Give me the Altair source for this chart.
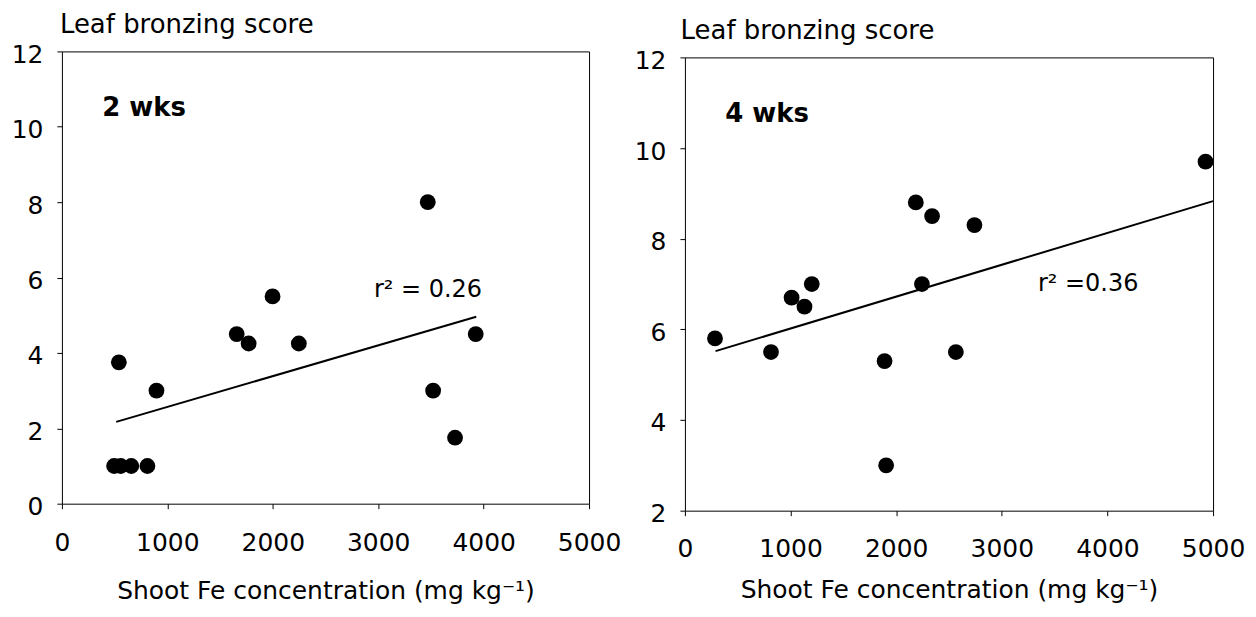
import altair as alt
import pandas as pd

FONT = "DejaVu Sans"

# ---- 2 weeks panel data ----
fe_2wk = [495, 558, 658, 811, 540, 897, 1658, 1771, 1998, 2247, 3470, 3521, 3729, 3925]
score_2wk = [1, 1, 1, 1, 3.75, 3, 4.5, 4.25, 5.5, 4.25, 8, 3, 1.75, 4.5]
fit_fe_2wk = [515, 3930]
fit_score_2wk = [2.17, 4.96]

# ---- 4 weeks panel data ----
fe_4wk = [285, 815, 1010, 1132, 1201, 1890, 1905, 2186, 2340, 2244, 2565, 2741, 4929]
score_4wk = [5.8, 5.5, 6.7, 6.5, 7.0, 5.3, 3.0, 8.8, 8.5, 7.0, 5.5, 8.3, 9.7]
fit_fe_4wk = [290, 5000]
fit_score_4wk = [5.52, 8.83]

# ---- axes / text ----
x_ticks = [0, 1000, 2000, 3000, 4000, 5000]
y_ticks_2wk = [0, 2, 4, 6, 8, 10, 12]
y_ticks_4wk = [2, 4, 6, 8, 10, 12]
y_title = "Leaf bronzing score"
x_title = "Shoot Fe concentration (mg kg\u207b\u00b9)"

panel_labels = ["2 wks", "4 wks"]
panel_label_fe = [383, 381]
panel_label_score = [10.28, 10.57]
r2_texts = ["r\u00b2 = 0.26", "r\u00b2 =0.36"]
r2_fe = [2960, 3342]
r2_score = [5.49, 6.84]


def panel(fe, score, fit_fe, fit_score, ydomain, yticks, idx,
          width, plot_h, shift, ytitle_x, xtitle_y, xlabel_pad):
    view_h = plot_h + shift
    xscale = alt.Scale(domain=[0, 5000], nice=False, zero=False)
    yscale = alt.Scale(domain=ydomain, range=[view_h, shift], nice=False, zero=False)

    x_axis = alt.Axis(
        values=x_ticks, format="d", title=x_title, grid=False,
        domainColor="black", domainWidth=1,
        tickColor="black", tickWidth=1, tickSize=5,
        labelFont=FONT, labelFontSize=25, labelColor="black",
        labelPadding=xlabel_pad, labelFlush=False, labelOverlap=False,
        titleFont=FONT, titleFontSize=25, titleFontWeight="normal",
        titleColor="black", titleY=xtitle_y, titleBaseline="alphabetic",
    )
    y_axis = alt.Axis(
        values=yticks, format="d", title=y_title, grid=False,
        domainColor="black", domainWidth=1,
        tickColor="black", tickWidth=1, tickSize=5,
        labelFont=FONT, labelFontSize=25, labelColor="black",
        labelPadding=14, labelOffset=3, labelFlush=False,
        titleFont=FONT, titleFontSize=26, titleFontWeight="normal",
        titleColor="black", titleAngle=0, titleAlign="left",
        titleBaseline="alphabetic", titleX=ytitle_x, titleY=-19.3 + shift,
    )
    top_axis = alt.Axis(orient="top", labels=False, ticks=False, title=None, grid=False,
                        domainColor="black", domainWidth=1, offset=-shift)
    right_axis = alt.Axis(orient="right", labels=False, ticks=False, title=None, grid=False,
                          domainColor="black", domainWidth=1)

    x_plain = alt.X("fe:Q", scale=xscale, axis=None)
    y_plain = alt.Y("score:Q", scale=yscale, axis=None)

    pts = pd.DataFrame({"fe": fe, "score": score})
    fit = pd.DataFrame({"fe": fit_fe, "score": fit_score})
    lab = pd.DataFrame({"fe": [panel_label_fe[idx]], "score": [panel_label_score[idx]],
                        "t": [panel_labels[idx]]})
    r2 = pd.DataFrame({"fe": [r2_fe[idx]], "score": [r2_score[idx]], "t": [r2_texts[idx]]})

    points = alt.Chart(pts).mark_circle(size=250, color="black", opacity=1).encode(
        x=alt.X("fe:Q", scale=xscale, axis=x_axis),
        y=alt.Y("score:Q", scale=yscale, axis=y_axis),
    )
    frame = alt.Chart(pts).mark_circle(size=1, opacity=0).encode(
        x=alt.X("fe:Q", scale=xscale, axis=top_axis),
        y=alt.Y("score:Q", scale=yscale, axis=right_axis),
    )
    line = alt.Chart(fit).mark_line(color="black", strokeWidth=2).encode(x=x_plain, y=y_plain)
    label = alt.Chart(lab).mark_text(
        font=FONT, fontSize=26, fontWeight="bold", align="left",
        baseline="alphabetic", color="black"
    ).encode(x=x_plain, y=y_plain, text="t:N")
    r2t = alt.Chart(r2).mark_text(
        font=FONT, fontSize=24, align="left", baseline="alphabetic", color="black"
    ).encode(x=x_plain, y=y_plain, text="t:N")
    return (
        alt.layer(points, frame, line, label, r2t)
        .resolve_axis(x="independent", y="independent")
        .properties(width=width, height=view_h)
    )


left = panel(fe_2wk, score_2wk, fit_fe_2wk, fit_score_2wk, [0, 12], y_ticks_2wk, 0,
             528, 453, 0, -2.5, 95, 22)
right = panel(fe_4wk, score_4wk, fit_fe_4wk, fit_score_4wk, [2, 12], y_ticks_4wk, 1,
              529, 454, 6, -4.8, 87.3, 20.5)

chart = (
    alt.hconcat(left, right, spacing=13)
    .properties(padding={"left": 3, "top": 2, "right": 3, "bottom": 0}, background="white")
    .configure_view(stroke=None)
)

chart.save("out.html", embed_options={"renderer": "svg", "actions": False})
